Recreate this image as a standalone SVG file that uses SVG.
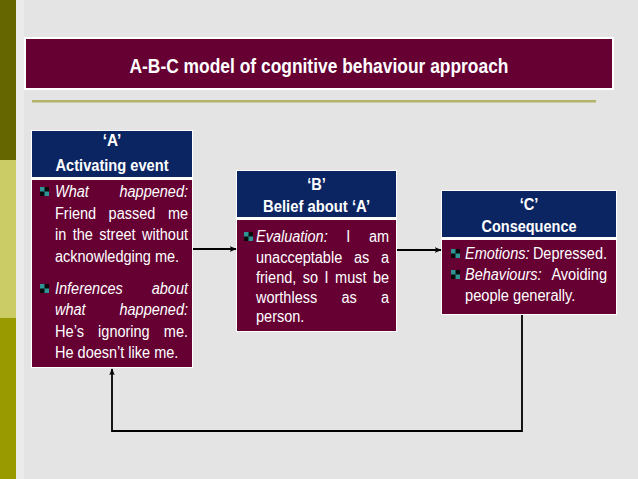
<svg xmlns="http://www.w3.org/2000/svg" width="638" height="479" viewBox="0 0 638 479">
<style>
.bg{fill:#e4e4e4}
.hdr{fill:#0b2563}
.body{fill:#660033}
.frame{fill:#ffffff}
.ht{font-family:"Liberation Sans",Arial,sans-serif;font-weight:bold;font-size:17px;fill:#ffffff;text-anchor:middle}
.tt{font-family:"Liberation Sans",Arial,sans-serif;font-weight:bold;font-size:20px;fill:#ffffff;text-anchor:middle}
.bt{font-family:"Liberation Sans",Arial,sans-serif;font-size:16px;fill:#ffffff}
.it{font-style:italic}
.e{text-anchor:end}
.ln{fill:none;stroke:#000000;stroke-width:1.8}
</style>
<defs>
<marker id="ah" viewBox="0 0 10 10" refX="9" refY="5" markerWidth="7" markerHeight="7" markerUnits="userSpaceOnUse" orient="auto">
<path d="M0,1 L10,5 L0,9 L2.5,5 Z" fill="#000000"/>
</marker>
<g id="blt">
<rect x="0" y="0" width="9" height="9" fill="#2e9494"/>
<rect x="4.5" y="0" width="4.5" height="4.5" fill="#0a0a0a"/>
<rect x="0" y="4.5" width="4.5" height="4.5" fill="#0a0a0a"/>
</g>
</defs>
<rect class="bg" x="0" y="0" width="638" height="479"/>
<rect x="16" y="0" width="8" height="479" fill="#ebebeb"/>
<rect x="0" y="0" width="16" height="160" fill="#666600"/>
<rect x="0" y="160" width="16" height="158" fill="#cccc66"/>
<rect x="0" y="318" width="16" height="161" fill="#999900"/>

<g id="title">
<rect x="25" y="38" width="588" height="51" fill="#660033" stroke="#ffffff" stroke-width="2"/>
<text class="tt" x="319" y="73" textLength="379" lengthAdjust="spacingAndGlyphs">A-B-C model of cognitive behaviour approach</text>
</g>
<rect x="32" y="100" width="564" height="2.5" fill="#b3b36b"/>

<g id="nodeA">
<rect class="frame" x="31" y="130" width="162" height="238"/>
<rect class="hdr" x="32" y="131" width="160" height="46"/>
<rect class="body" x="32" y="180" width="160" height="187"/>
<text class="ht" x="112" y="146" textLength="18.7" lengthAdjust="spacingAndGlyphs">‘A’</text>
<text class="ht" x="112" y="171" textLength="113" lengthAdjust="spacingAndGlyphs">Activating event</text>
<use href="#blt" x="40" y="187"/>
<text class="bt it" x="55" y="197" textLength="33.8" lengthAdjust="spacingAndGlyphs">What</text>
<text class="bt it e" x="188" y="197" textLength="68.5" lengthAdjust="spacingAndGlyphs">happened:</text>
<text class="bt" x="55" y="218.5" textLength="41.1" lengthAdjust="spacingAndGlyphs">Friend</text>
<text class="bt" x="108.6" y="218.5" textLength="46.7" lengthAdjust="spacingAndGlyphs">passed</text>
<text class="bt e" x="188" y="218.5" textLength="20.1" lengthAdjust="spacingAndGlyphs">me</text>
<text class="bt" x="55" y="240" textLength="11.3" lengthAdjust="spacingAndGlyphs">in</text>
<text class="bt" x="72.7" y="240" textLength="20.2" lengthAdjust="spacingAndGlyphs">the</text>
<text class="bt" x="99.3" y="240" textLength="36.3" lengthAdjust="spacingAndGlyphs">street</text>
<text class="bt e" x="188" y="240" textLength="45.9" lengthAdjust="spacingAndGlyphs">without</text>
<text class="bt" x="55" y="261.5" textLength="124.1" lengthAdjust="spacingAndGlyphs">acknowledging me.</text>
<use href="#blt" x="40" y="284"/>
<text class="bt it" x="55" y="293.5" textLength="67.7" lengthAdjust="spacingAndGlyphs">Inferences</text>
<text class="bt it e" x="188" y="293.5" textLength="36.3" lengthAdjust="spacingAndGlyphs">about</text>
<text class="bt it" x="55" y="315" textLength="30.6" lengthAdjust="spacingAndGlyphs">what</text>
<text class="bt it e" x="188" y="315" textLength="68.5" lengthAdjust="spacingAndGlyphs">happened:</text>
<text class="bt" x="55" y="336.5" textLength="29" lengthAdjust="spacingAndGlyphs">He’s</text>
<text class="bt" x="98.1" y="336.5" textLength="51.6" lengthAdjust="spacingAndGlyphs">ignoring</text>
<text class="bt e" x="188" y="336.5" textLength="24.2" lengthAdjust="spacingAndGlyphs">me.</text>
<text class="bt" x="55" y="358" textLength="123.3" lengthAdjust="spacingAndGlyphs">He doesn’t like me.</text>
</g>

<g id="nodeB">
<rect class="frame" x="236" y="170" width="161" height="162"/>
<rect class="hdr" x="237" y="171" width="159" height="46"/>
<rect class="body" x="237" y="220" width="159" height="111"/>
<text class="ht" x="316.5" y="190" textLength="18.7" lengthAdjust="spacingAndGlyphs">‘B’</text>
<text class="ht" x="316.5" y="212" textLength="107" lengthAdjust="spacingAndGlyphs">Belief about ‘A’</text>
<use href="#blt" x="244" y="232"/>
<text class="bt it" x="256" y="242" textLength="71.7" lengthAdjust="spacingAndGlyphs">Evaluation:</text>
<text class="bt" x="346.3" y="242" textLength="4" lengthAdjust="spacingAndGlyphs">I</text>
<text class="bt e" x="389" y="242" textLength="20.1" lengthAdjust="spacingAndGlyphs">am</text>
<text class="bt" x="256" y="263" textLength="86.2" lengthAdjust="spacingAndGlyphs">unacceptable</text>
<text class="bt" x="353.9" y="263" textLength="15.3" lengthAdjust="spacingAndGlyphs">as</text>
<text class="bt e" x="389" y="263" textLength="8.1" lengthAdjust="spacingAndGlyphs">a</text>
<text class="bt" x="256" y="283" textLength="40.3" lengthAdjust="spacingAndGlyphs">friend,</text>
<text class="bt" x="302.8" y="283" textLength="15.3" lengthAdjust="spacingAndGlyphs">so</text>
<text class="bt" x="324.6" y="283" textLength="4" lengthAdjust="spacingAndGlyphs">I</text>
<text class="bt" x="335.1" y="283" textLength="31.4" lengthAdjust="spacingAndGlyphs">must</text>
<text class="bt e" x="389" y="283" textLength="16.1" lengthAdjust="spacingAndGlyphs">be</text>
<text class="bt" x="256" y="303" textLength="61.2" lengthAdjust="spacingAndGlyphs">worthless</text>
<text class="bt" x="341.4" y="303" textLength="15.3" lengthAdjust="spacingAndGlyphs">as</text>
<text class="bt e" x="389" y="303" textLength="8.1" lengthAdjust="spacingAndGlyphs">a</text>
<text class="bt" x="256" y="322" textLength="48.4" lengthAdjust="spacingAndGlyphs">person.</text>
</g>

<g id="nodeC">
<rect class="frame" x="441" y="190" width="176" height="125"/>
<rect class="hdr" x="442" y="191" width="174" height="46"/>
<rect class="body" x="442" y="240" width="174" height="74"/>
<text class="ht" x="529" y="210" textLength="18.7" lengthAdjust="spacingAndGlyphs">‘C’</text>
<text class="ht" x="529" y="232" textLength="95" lengthAdjust="spacingAndGlyphs">Consequence</text>
<use href="#blt" x="451" y="249"/>
<text class="bt it" x="465" y="259" textLength="64.5" lengthAdjust="spacingAndGlyphs">Emotions:</text>
<text class="bt e" x="607" y="259" textLength="74.1" lengthAdjust="spacingAndGlyphs">Depressed.</text>
<use href="#blt" x="451" y="270"/>
<text class="bt it" x="465" y="280" textLength="76.6" lengthAdjust="spacingAndGlyphs">Behaviours:</text>
<text class="bt e" x="607" y="280" textLength="55.6" lengthAdjust="spacingAndGlyphs">Avoiding</text>
<text class="bt" x="465" y="301" textLength="110.4" lengthAdjust="spacingAndGlyphs">people generally.</text>
</g>

<g id="connectors">
<line class="ln" x1="193" y1="249" x2="236" y2="249" marker-end="url(#ah)"/>
<line class="ln" x1="397" y1="250" x2="441" y2="250" marker-end="url(#ah)"/>
<polyline class="ln" points="522,315 522,431 112,431 112,369" marker-end="url(#ah)"/>
</g>
</svg>
